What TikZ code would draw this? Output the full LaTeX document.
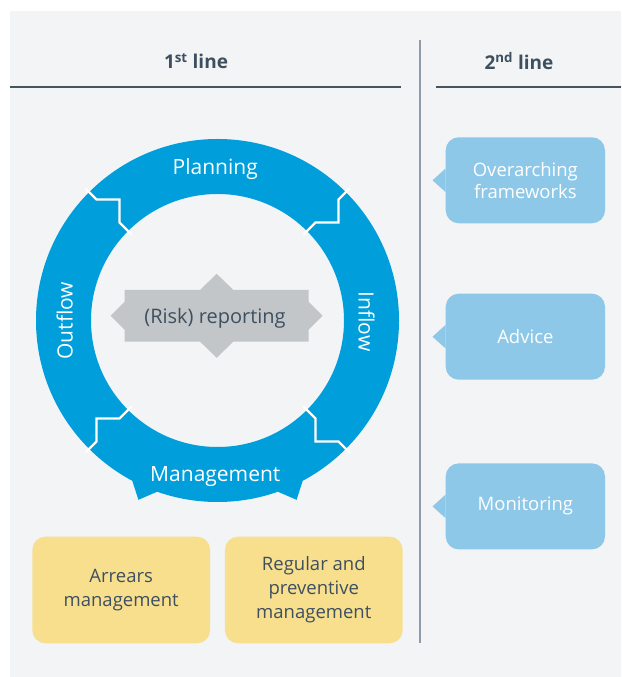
\documentclass[tikz,border=0pt]{standalone}
\usepackage{fontspec}
\setmainfont{Open Sans}
\usetikzlibrary{positioning,calc}

\definecolor{bgpanel}{HTML}{F2F4F6}
\definecolor{ringblue}{HTML}{009EDB}
\definecolor{lightblue}{HTML}{8EC8E8}
\definecolor{sand}{HTML}{F8DF8E}
\definecolor{stone}{HTML}{C2C6C8}
\definecolor{slate}{HTML}{3E5060}
\definecolor{rulegray}{HTML}{445562}
\definecolor{divider}{HTML}{8F9BA6}

\tikzset{
    header/.style={font=\fontsize{19}{23}\selectfont\bfseries, text=slate},
    phase/.style={font=\fontsize{21}{25}\selectfont, text=white, inner sep=0pt},
    role/.style={fill=lightblue, rounded corners=13pt, minimum width=159.3pt, minimum height=86pt,
                 text=white, align=center, font=\fontsize{18.5}{22}\selectfont},
    task/.style={fill=sand, rounded corners=13pt, minimum width=177.7pt, minimum height=106.6pt,
                 text=slate, align=center, font=\fontsize{18.5}{24}\selectfont},
    seam/.style={white, line width=2.3pt},
    headrule/.style={rulegray, line width=2.8pt}
}

\begin{document}
\begin{tikzpicture}[x=1pt, y=1pt]
    \useasboundingbox (0,0) rectangle (621,677);
    \fill[bgpanel] (9.5,0) rectangle (621,666);

    % column headers
    \node[header] (first) at (196,616) {1\textsuperscript{st} line};
    \node[header] (second) at (519,616) {2\textsuperscript{nd} line};
    \draw[headrule] (9.5,590) -- (401,590);
    \draw[headrule] (436,590) -- (621,590);
    \draw[divider, line width=1.3pt] (420,637) -- (420,34);

    % the cycle ring
    \coordinate (c) at (217.5,356.5);
    \fill[ringblue, even odd rule] (c) circle (181.5pt) (c) circle (126.5pt);
    \begin{scope}[shift={(c)}]
        \fill[ringblue] (241:172) -- (242:181.5) -- (246.2:196) -- (250.6:181.5) -- (251:172) -- cycle;
        \fill[ringblue] (299:172) -- (298:181.5) -- (293.8:196) -- (289.4:181.5) -- (289:172) -- cycle;
        \foreach \turn in {0,-90,-180,-270}
            \draw[seam, rotate=\turn] (-132,132) -- (-121,121) -- (-98,121) -- (-98,98) -- (-86,86);
    \end{scope}

    \node[phase, anchor=base] (planning) at (215.2,502) {Planning};
    \node[phase, anchor=base] (mgmt) at (215.3,195.3) {Management};
    \node[phase, rotate=-90] (inflow) at (366.5,355.3) {Inflow};
    \node[phase, rotate=90] (outflow) at (64.7,356.2) {Outflow};

    % reporting badge in the middle
    \coordinate (hub) at (216.7,361.2);
    \begin{scope}[shift={(hub)}]
        \fill[stone] (-92,25.8) -- (-16.7,25.8) -- (0,42) -- (16.7,25.8) -- (92,25.8) -- (92,14)
            -- (106,0) -- (92,-14) -- (92,-25.8) -- (16.7,-25.8) -- (0,-42) -- (-16.7,-25.8)
            -- (-92,-25.8) -- (-92,-14) -- (-106,0) -- (-92,14) -- cycle;
    \end{scope}
    \node[text=slate, font=\fontsize{20}{24}\selectfont, anchor=base] (reporting) at (215,353) {(Risk) reporting};

    % 2nd line callouts
    \node[role] (frameworks) at (525.35,496.7) {Overarching\\frameworks};
    \node[role, below=70pt of frameworks] (advice) {Advice};
    \node[role, below=83.3pt of advice] (monitoring) {Monitoring};
    \foreach \bubble in {frameworks,advice,monitoring}
        \fill[lightblue] ([yshift=11.7pt]\bubble.west) -- ([xshift=-13pt]\bubble.west)
            -- ([yshift=-11.7pt]\bubble.west) -- cycle;

    % 1st line tasks
    \node[task] (arrears) at (121.2,87) {Arrears\\management};
    \node[task, right=14.5pt of arrears] (regular) {Regular and\\preventive\\management};
\end{tikzpicture}
\end{document}
